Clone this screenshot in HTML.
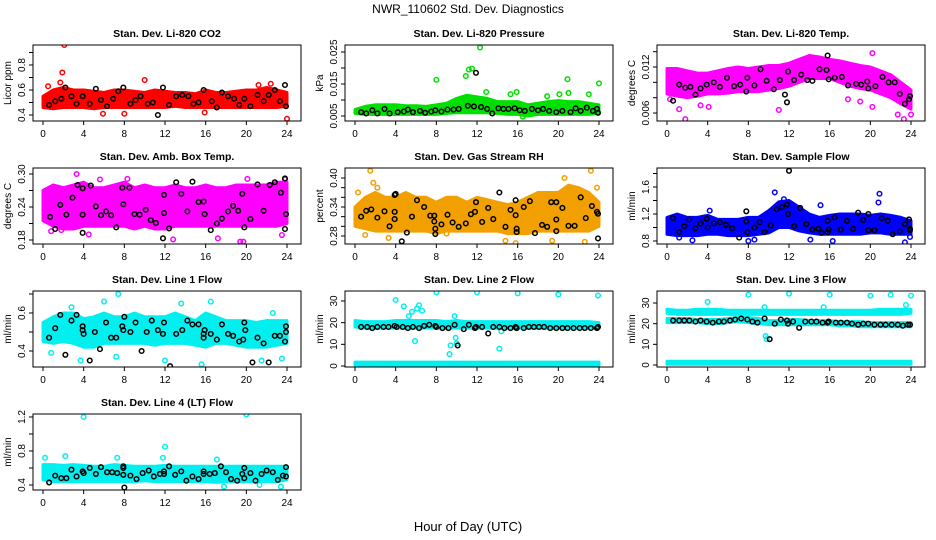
<!DOCTYPE html>
<html><head><meta charset="utf-8"><style>
html,body{margin:0;padding:0;background:#fff;}
svg{display:block;font-family:"Liberation Sans",sans-serif;}
</style></head><body>
<svg id="chart" width="936" height="540" viewBox="0 0 936 540" xmlns="http://www.w3.org/2000/svg">
<text x="468" y="13" text-anchor="middle" font-size="12">NWR_110602  Std. Dev. Diagnostics</text>
<text x="468" y="531" text-anchor="middle" font-size="13">Hour of Day (UTC)</text>
</svg>
<script>
const hours = [0,1,2,3,4,5,6,7,8,9,10,11,12,13,14,15,16,17,18,19,20,21,22,23,24];
const xTicks = [0,4,8,12,16,20,24];

const co2Lo = [0.46,0.45,0.46,0.46,0.46,0.45,0.46,0.46,0.46,0.46,0.46,0.46,0.46,0.47,0.46,0.46,0.46,0.46,0.46,0.46,0.46,0.46,0.46,0.46,0.47];
const co2Hi = [0.55,0.6,0.62,0.6,0.6,0.59,0.58,0.6,0.6,0.59,0.58,0.6,0.59,0.58,0.58,0.57,0.6,0.58,0.58,0.59,0.6,0.6,0.62,0.6,0.58];
const co2Out = [[2.1,0.96],[1.9,0.74],[1.7,0.66],[5.9,0.41],[8.0,0.41],[10,0.68],[15.9,0.42],[22.4,0.65],[24,0.37],[0.5,0.63],[21.2,0.64]];
const co2Black = [[0.6,0.48],[1.2,0.51],[1.8,0.53],[2.2,0.62],[2.8,0.55],[3.3,0.49],[3.9,0.55],[4.6,0.49],[5.2,0.61],[5.7,0.52],[6.3,0.47],[6.9,0.53],[7.4,0.59],[7.9,0.62],[8.6,0.49],[9.1,0.52],[9.6,0.55],[10.3,0.49],[10.8,0.5],[11.3,0.4],[11.8,0.62],[12.4,0.48],[13.1,0.55],[13.7,0.56],[14.3,0.55],[14.8,0.49],[15.3,0.5],[15.8,0.6],[16.6,0.51],[17.1,0.46],[17.6,0.58],[18.2,0.55],[18.8,0.53],[19.3,0.48],[19.8,0.53],[20.4,0.47],[21.1,0.56],[21.7,0.51],[22.2,0.56],[22.8,0.6],[23.3,0.51],[23.8,0.64],[23.9,0.47]];

const presLo = [0.0058,0.0055,0.0055,0.0055,0.0055,0.0055,0.0055,0.0055,0.0055,0.0058,0.006,0.006,0.006,0.006,0.0058,0.0055,0.0055,0.005,0.0055,0.0055,0.0055,0.0055,0.0055,0.0055,0.0058];
const presHi = [0.007,0.008,0.0085,0.0085,0.0085,0.0082,0.0082,0.008,0.0085,0.009,0.0105,0.0115,0.011,0.0105,0.0095,0.0095,0.0095,0.0085,0.009,0.0095,0.0098,0.0095,0.0095,0.009,0.0085];
const presOut = [[8,0.0163],[10.9,0.0175],[11.2,0.0195],[11.5,0.0198],[12.3,0.0264],[12.9,0.0125],[15.9,0.0125],[15.3,0.0118],[20.1,0.0118],[20.9,0.0165],[21,0.0122],[23,0.0118],[24,0.0152],[18.9,0.0112],[16.5,0.0048]];
const presBlack = [[0.6,0.0062],[1.1,0.0058],[1.7,0.0068],[2.2,0.0058],[2.9,0.0072],[3.4,0.0058],[4.2,0.0062],[4.8,0.0064],[5.2,0.007],[5.7,0.0062],[6.4,0.0066],[6.9,0.006],[7.5,0.0064],[7.9,0.0068],[8.5,0.0064],[9.1,0.007],[9.7,0.007],[10.2,0.0072],[11.1,0.0082],[11.9,0.0185],[11.7,0.008],[12.4,0.0078],[13,0.0072],[13.5,0.0058],[14.1,0.0074],[14.6,0.0072],[15.1,0.0072],[15.7,0.0074],[16.2,0.0068],[16.7,0.0066],[17.4,0.0072],[18,0.0068],[18.5,0.0072],[19.1,0.0066],[19.8,0.0062],[20.4,0.0066],[21.2,0.0062],[21.7,0.0074],[22.2,0.0066],[22.8,0.0076],[23.4,0.0066],[23.8,0.0072],[23.9,0.006]];

const tempLo = [0.0085,0.0082,0.008,0.0082,0.0085,0.0085,0.0086,0.0088,0.0088,0.0088,0.009,0.0092,0.0095,0.01,0.0105,0.0105,0.0105,0.01,0.0095,0.0092,0.009,0.0085,0.008,0.0072,0.0065];
const tempHi = [0.0118,0.0118,0.0115,0.0112,0.0112,0.0115,0.0118,0.012,0.0118,0.012,0.0122,0.0122,0.0125,0.013,0.0135,0.0133,0.013,0.0128,0.0125,0.0122,0.012,0.0115,0.011,0.01,0.009];
const tempOut = [[1.2,0.0065],[1.8,0.0052],[3.3,0.007],[4.1,0.0068],[11,0.0064],[20.2,0.0138],[20.2,0.0068],[22.7,0.0058],[23.3,0.0052],[24,0.0058],[0.3,0.0078],[17.8,0.0078],[19,0.0075]];
const tempBlack = [[0.6,0.0076],[1.2,0.0097],[1.8,0.0093],[2.3,0.0094],[2.8,0.0084],[3.3,0.0092],[3.9,0.0097],[4.6,0.01],[5.2,0.0094],[5.9,0.0106],[6.6,0.0095],[7.2,0.0097],[7.8,0.0088],[7.9,0.0106],[8.6,0.0096],[9.2,0.0117],[9.8,0.0102],[10.5,0.0091],[11.1,0.0103],[11.6,0.0084],[11.8,0.0074],[11.9,0.0114],[12.5,0.0103],[13.2,0.011],[13.8,0.0103],[14.3,0.0102],[15,0.0117],[15.7,0.0116],[15.8,0.0135],[15.9,0.0104],[16.5,0.0106],[17.2,0.0107],[17.8,0.0096],[18.6,0.0098],[19.1,0.0097],[19.7,0.0101],[19.8,0.0092],[20.5,0.0095],[21.2,0.0107],[21.8,0.01],[22.4,0.01],[22.9,0.0085],[23.4,0.0072],[23.9,0.0082],[23.8,0.0078]];

const ambLo = [0.215,0.205,0.2,0.2,0.205,0.205,0.205,0.205,0.205,0.2,0.205,0.2,0.2,0.205,0.205,0.205,0.205,0.205,0.205,0.205,0.205,0.205,0.205,0.205,0.21];
const ambHi = [0.27,0.28,0.275,0.28,0.285,0.275,0.275,0.28,0.285,0.275,0.28,0.275,0.275,0.28,0.275,0.275,0.28,0.275,0.275,0.28,0.28,0.28,0.28,0.285,0.285];
const ambOut = [[3.3,0.3],[10.7,0.318],[5.6,0.29],[4.5,0.19],[8.3,0.291],[12.8,0.181],[17.2,0.183],[19.4,0.177],[19.7,0.177],[23.5,0.189],[0.8,0.196],[1.8,0.198],[20.1,0.291],[23.8,0.29]];
const ambBlack = [[0.7,0.222],[1.2,0.2],[1.7,0.244],[2.3,0.226],[2.9,0.257],[3.4,0.28],[3.9,0.274],[3.9,0.226],[3.9,0.193],[4.7,0.279],[5.2,0.241],[5.7,0.225],[6.2,0.232],[6.7,0.225],[7.2,0.203],[7.8,0.275],[7.9,0.245],[8.5,0.275],[9,0.227],[9.5,0.226],[10.1,0.235],[10.6,0.216],[11.1,0.211],[11.8,0.183],[11.9,0.229],[11.9,0.262],[12.4,0.201],[13.1,0.285],[13.6,0.264],[14.2,0.232],[14.7,0.286],[15.3,0.249],[15.8,0.25],[15.9,0.227],[16.5,0.198],[17.1,0.21],[17.6,0.219],[18.2,0.232],[18.7,0.242],[19.2,0.233],[19.6,0.264],[19.8,0.203],[20.4,0.218],[21.1,0.281],[21.7,0.233],[22.3,0.28],[22.8,0.285],[23.4,0.266],[23.8,0.292],[23.9,0.227],[23.8,0.2]];

const rhLo = [0.3,0.295,0.29,0.29,0.29,0.29,0.29,0.29,0.285,0.29,0.29,0.29,0.29,0.29,0.29,0.285,0.285,0.285,0.29,0.29,0.29,0.29,0.29,0.29,0.3];
const rhHi = [0.34,0.36,0.37,0.36,0.36,0.37,0.36,0.36,0.35,0.36,0.36,0.35,0.36,0.355,0.35,0.345,0.35,0.36,0.37,0.37,0.37,0.385,0.38,0.37,0.35];
const rhOut = [[1.5,0.415],[1.8,0.39],[2.2,0.38],[0.3,0.37],[1,0.282],[3.3,0.276],[19.4,0.27],[20.6,0.4],[23.2,0.415],[23.8,0.38],[22.6,0.268],[15.8,0.265],[14.8,0.27],[9,0.285]];
const rhBlack = [[0.6,0.32],[1.1,0.332],[1.6,0.335],[2.2,0.318],[2.9,0.331],[3.4,0.3],[3.9,0.365],[4,0.367],[3.9,0.33],[3.9,0.315],[4.6,0.269],[5.1,0.287],[5.6,0.32],[6.1,0.354],[6.8,0.34],[7.4,0.322],[7.8,0.322],[7.8,0.31],[7.9,0.295],[7.9,0.284],[8.5,0.304],[9.1,0.324],[9.6,0.308],[10.2,0.299],[10.9,0.306],[11.4,0.325],[11.8,0.33],[11.9,0.35],[12.5,0.309],[13.1,0.338],[13.6,0.315],[14.2,0.37],[14.8,0.299],[15.3,0.334],[15.8,0.354],[15.8,0.323],[15.9,0.295],[15.9,0.288],[16.6,0.34],[17.2,0.352],[17.7,0.286],[18.4,0.303],[18.9,0.299],[19.3,0.35],[19.8,0.35],[19.8,0.314],[19.8,0.29],[20.4,0.338],[21,0.301],[21.6,0.301],[22.2,0.36],[22.7,0.317],[23.3,0.342],[23.8,0.33],[23.9,0.326],[23.9,0.275]];

const flowLo = [0.9,0.88,0.88,0.88,0.9,0.9,0.88,0.88,0.88,0.9,0.92,1.0,1.0,0.95,0.92,0.9,0.9,0.9,0.9,0.9,0.92,0.92,0.9,0.9,0.9];
const flowHi = [1.15,1.2,1.15,1.15,1.18,1.12,1.12,1.12,1.15,1.15,1.25,1.38,1.4,1.3,1.2,1.15,1.18,1.2,1.2,1.2,1.18,1.2,1.18,1.15,1.1];
const flowOut = [[10.6,1.52],[11.5,1.42],[15.1,1.33],[20.9,1.5],[20.8,1.37],[2.5,0.81],[8,0.8],[8.6,0.82],[14.1,0.82],[16.3,0.8],[23.4,0.78],[23.9,0.86],[4.2,1.25],[1.2,0.85]];
const flowBlack = [[0.6,1.14],[1.2,0.93],[1.7,1.02],[2.2,1.12],[2.8,0.99],[3.3,1.06],[3.9,1.13],[4,1.0],[4.6,1.06],[5.2,1.08],[5.8,1.04],[6.4,0.99],[7.1,0.85],[7.8,1.24],[7.8,1.09],[7.9,0.93],[8.6,1.0],[9.1,1.08],[9.6,0.93],[10.2,1.03],[10.8,1.27],[11.3,1.3],[11.8,1.34],[11.9,1.2],[12.0,1.84],[12.5,1.02],[13.1,1.29],[13.7,1.05],[14.3,0.97],[14.9,0.98],[15.2,0.92],[15.8,0.93],[15.9,0.97],[15.8,1.1],[16.5,1.15],[17.1,0.97],[17.7,1.1],[18.3,0.98],[18.8,1.22],[19.3,1.11],[19.8,0.96],[19.8,1.2],[20.4,0.96],[21.1,1.14],[21.7,1.1],[22.2,0.9],[22.9,0.94],[23.4,1.05],[23.8,1.12],[23.9,0.98],[23.9,0.96]];

const l1Lo = [0.45,0.44,0.45,0.44,0.42,0.42,0.44,0.44,0.44,0.44,0.44,0.43,0.44,0.44,0.44,0.43,0.42,0.44,0.44,0.43,0.42,0.42,0.42,0.43,0.44];
const l1Hi = [0.55,0.58,0.6,0.6,0.57,0.58,0.6,0.58,0.58,0.6,0.58,0.58,0.58,0.6,0.58,0.56,0.6,0.58,0.56,0.56,0.56,0.55,0.56,0.56,0.56];
const l1Out = [[7.4,0.7],[16.5,0.66],[6,0.66],[3.7,0.35],[7.2,0.37],[12,0.35],[15.6,0.33],[21.5,0.35],[23.5,0.36],[2.8,0.63],[13.6,0.65],[22.6,0.6],[0.8,0.39]];
const l1Black = [[0.6,0.47],[1.2,0.52],[1.7,0.59],[2.2,0.38],[2.8,0.56],[3.3,0.59],[3.9,0.53],[3.9,0.51],[4,0.49],[4.6,0.35],[5.1,0.5],[5.6,0.41],[6.2,0.55],[6.7,0.47],[7.2,0.47],[7.8,0.53],[7.9,0.51],[8,0.58],[8.6,0.5],[9.1,0.55],[9.7,0.4],[10.2,0.5],[10.7,0.56],[11.3,0.51],[11.8,0.49],[11.9,0.55],[12.5,0.32],[13.1,0.49],[13.7,0.51],[14.2,0.56],[14.7,0.54],[15.3,0.54],[15.8,0.49],[15.8,0.47],[15.9,0.51],[16.5,0.49],[17.1,0.46],[17.6,0.54],[18.2,0.49],[18.7,0.48],[19.3,0.45],[19.7,0.46],[19.9,0.51],[19.8,0.55],[20.6,0.34],[21.1,0.47],[21.7,0.44],[22.2,0.34],[22.8,0.48],[23.3,0.48],[23.8,0.45],[23.9,0.53],[23.9,0.5]];

const l2Lo = [18,17.5,17.5,17.5,17.5,17.5,17.5,17.5,17.5,17.5,17.5,17.5,17.5,17.5,17.5,17.5,17.5,17.5,17.5,17.5,17.5,17.5,17.5,17.5,17.5];
const l2Hi = [21,20.5,20.5,20.5,21,21,21,21,21,20.5,21,20.5,20.5,20.5,20.5,20.5,20.5,20.5,20.5,20.5,20.5,20.5,20.5,20.5,20];
const l2BaseLo = [0.4,0.4,0.4,0.4,0.4,0.4,0.4,0.4,0.4,0.4,0.4,0.4,0.4,0.4,0.4,0.4,0.4,0.4,0.4,0.4,0.4,0.4,0.4,0.4,0.4];
const l2BaseHi = [1.8,1.8,1.8,1.8,1.8,1.8,1.8,1.8,1.8,1.8,1.8,1.8,1.8,1.8,1.8,1.8,1.8,1.8,1.8,1.8,1.8,1.8,1.8,1.8,1.8];
const l2Out = [[4,30.5],[4.8,27.5],[5.3,23],[5.6,25],[6.1,26.5],[6.3,28],[6.6,25.5],[5.9,11.5],[8,34],[12,34],[16,33.5],[20,33],[23.9,32.5],[9.3,5.5],[9.4,9.5],[9.9,13],[10,10.5],[9.8,23],[14.2,8],[14.4,16]];
const l2Black = [[0.6,18],[1.2,18],[1.7,17.5],[2.2,18],[2.8,18],[3.3,18],[3.9,18.5],[4.1,18],[4.7,18],[5.2,17.5],[5.7,18],[6.3,17.5],[6.8,18.5],[7.3,19],[7.9,18.5],[8,18],[8.6,17.5],[9.2,17.5],[9.8,19],[10.1,9.5],[10.7,17],[11.2,19],[11.8,17.5],[11.9,18],[12.5,18],[13.1,15],[13.6,18],[14.2,18],[14.7,17.5],[15.3,17.5],[15.8,18],[15.9,17.5],[16.6,17.5],[17.1,18],[17.6,18],[18.1,18],[18.6,18],[19.2,17.5],[19.8,17.5],[20.4,17.5],[20.9,17.5],[21.5,17.5],[22.1,17.5],[22.6,17.5],[23.2,17.5],[23.8,17.5],[23.9,18]];

const l3UpLo = [25,24.5,24.5,24.5,24.5,24.5,24.5,24.5,24.5,24.5,24.5,24.5,24.5,24.5,24.5,24.5,24.5,24.5,24.5,24.5,24.5,24.5,24.5,24.5,25];
const l3UpHi = [27,26.5,26.5,27,27,27,26.5,26.5,26.5,26.5,26.5,26.5,26.5,26.5,26.5,26.5,26.5,26.5,26.5,26.5,26.5,27,27,27,27];
const l3MidLo = [20.5,20.5,20.5,20.5,20,20,20.5,21,20.5,20,19.5,19.5,19.5,19.5,19.5,19.5,19.5,19,19,18.5,18.5,18.5,18.5,18.5,18.5];
const l3MidHi = [22.5,22.5,22.5,22,22,22,22.5,23,23,22.5,21.5,21.5,22,22,21.5,21.5,21.5,21,21,21,20.5,20.5,20.5,20.5,20.5];
const l3BaseLo = [0.4,0.4,0.4,0.4,0.4,0.4,0.4,0.4,0.4,0.4,0.4,0.4,0.4,0.4,0.4,0.4,0.4,0.4,0.4,0.4,0.4,0.4,0.4,0.4,0.4];
const l3BaseHi = [1.8,1.8,1.8,1.8,1.8,1.8,1.8,1.8,1.8,1.8,1.8,1.8,1.8,1.8,1.8,1.8,1.8,1.8,1.8,1.8,1.8,1.8,1.8,1.8,1.8];
const l3Out = [[4,30.5],[8,34],[12,34.5],[16,34],[20,33.5],[22,34],[24,33.5],[9.6,28],[9.7,14],[9.8,12.5],[23.5,29],[15.4,28]];
const l3Black = [[0.6,21.5],[1.2,21.5],[1.7,21.5],[2.2,21.5],[2.8,21],[3.3,21.5],[3.9,21],[4.5,20.5],[5.1,21],[5.6,21],[6.2,21.5],[6.7,22],[7.3,22.5],[7.9,22],[8.4,21],[8.9,20.5],[9.6,22.5],[10.1,12.5],[10.6,20],[11.2,22],[11.8,21.5],[11.9,20],[12.4,21],[13,18],[13.6,21],[14.2,21],[14.7,21],[15.3,20.5],[15.8,20.5],[15.9,21],[16.6,20.5],[17.1,20.5],[17.7,20.5],[18.2,20],[18.8,19.5],[19.3,20],[19.8,20],[20.4,19.5],[21,19.5],[21.5,19.5],[22.1,19.5],[22.7,19.5],[23.2,19],[23.7,19.5],[23.9,19.5]];

const l4Lo = [0.46,0.44,0.44,0.44,0.44,0.44,0.44,0.44,0.44,0.44,0.45,0.44,0.44,0.44,0.44,0.44,0.44,0.43,0.44,0.44,0.44,0.44,0.44,0.44,0.46];
const l4Hi = [0.64,0.64,0.63,0.64,0.63,0.62,0.62,0.64,0.63,0.62,0.62,0.62,0.63,0.62,0.62,0.62,0.62,0.62,0.62,0.62,0.62,0.62,0.62,0.62,0.62];
const l4Out = [[4,1.2],[20,1.23],[12,0.85],[11.8,0.72],[7.3,0.72],[2.2,0.74],[0.2,0.72],[17.1,0.7],[17.8,0.38],[23.4,0.38],[21.3,0.4]];
const l4Black = [[0.6,0.43],[1.2,0.51],[1.8,0.48],[2.3,0.48],[2.8,0.58],[3.3,0.5],[3.9,0.56],[4,0.54],[4.6,0.6],[5.2,0.53],[5.7,0.61],[6.3,0.55],[6.8,0.55],[7.3,0.54],[7.9,0.62],[7.9,0.6],[7.9,0.52],[8,0.37],[8.6,0.51],[9.2,0.47],[9.8,0.54],[10.4,0.57],[10.9,0.5],[11.5,0.53],[11.9,0.56],[11.9,0.53],[12.4,0.62],[13,0.52],[13.6,0.56],[14.1,0.45],[14.7,0.5],[15.3,0.47],[15.8,0.56],[15.8,0.53],[16.4,0.53],[16.9,0.54],[17.5,0.62],[18,0.55],[18.5,0.47],[19.1,0.45],[19.6,0.53],[19.8,0.6],[19.8,0.48],[20.4,0.54],[20.9,0.45],[21.5,0.53],[22,0.57],[22.6,0.55],[23.1,0.46],[23.6,0.51],[23.9,0.5],[23.9,0.61]];

const co2Ticks=[0.4,0.5,0.6,0.7,0.8,0.9], co2Labels=["0.4","0.6","0.8"];
const presTicks=[0.005,0.01,0.015,0.02,0.025], presLabels=["0.005","0.015","0.025"];
const tempTicks=[0.006,0.008,0.01,0.012,0.014], tempLabels=["0.006","0.012"];
const ambTicks=[0.18,0.21,0.24,0.27,0.30], ambLabels=["0.18","0.24","0.30"];
const rhTicks=[0.28,0.30,0.32,0.34,0.36,0.38,0.40], rhLabels=["0.28","0.34","0.40"];
const flowTicks=[0.8,1.0,1.2,1.4,1.6,1.8], flowLabels=["0.8","1.2","1.6"];
const l1Ticks=[0.4,0.5,0.6,0.7], l1Labels=["0.4","0.6"];
const l23Ticks=[0,10,20,30], l23Labels=["0","10","20","30"];
const l4Ticks=[0.4,0.6,0.8,1.0,1.2], l4Labels=["0.4","0.8","1.2"];

const NS="http://www.w3.org/2000/svg";
const svg=document.getElementById('chart');
function mk(tag,attrs,parent){const e=document.createElementNS(NS,tag);for(const k in attrs)e.setAttribute(k,attrs[k]);(parent||svg).appendChild(e);return e;}

const panels=[
 {key:'co2',title:'Stan. Dev. Li-820 CO2',ylab:'Licor ppm',col:0,row:0,ymin:0.352,ymax:0.96,color:'#ff0000',bands:[[co2Lo,co2Hi]],out:co2Out,black:co2Black,ticks:co2Ticks,labels:co2Labels},
 {key:'pressure',title:'Stan. Dev. Li-820 Pressure',ylab:'kPa',col:1,row:0,ymin:0.00344,ymax:0.02719,color:'#00e000',bands:[[presLo,presHi]],out:presOut,black:presBlack,ticks:presTicks,labels:presLabels},
 {key:'temp',title:'Stan. Dev. Li-820 Temp.',ylab:'degrees C',col:2,row:0,ymin:0.00496,ymax:0.01487,color:'#ff00ff',bands:[[tempLo,tempHi]],out:tempOut,black:tempBlack,ticks:tempTicks,labels:tempLabels},
 {key:'amb-box-temp',title:'Stan. Dev. Amb. Box Temp.',ylab:'degrees C',col:0,row:1,ymin:0.1727,ymax:0.3109,color:'#ff00ff',bands:[[ambLo,ambHi]],out:ambOut,black:ambBlack,ticks:ambTicks,labels:ambLabels},
 {key:'gas-rh',title:'Stan. Dev. Gas Stream RH',ylab:'percent',col:1,row:1,ymin:0.2634,ymax:0.4207,color:'#f2a000',bands:[[rhLo,rhHi]],out:rhOut,black:rhBlack,ticks:rhTicks,labels:rhLabels},
 {key:'sample-flow',title:'Stan. Dev. Sample Flow',ylab:'ml/min',col:2,row:1,ymin:0.7556,ymax:1.8815,color:'#0000ff',bands:[[flowLo,flowHi]],out:flowOut,black:flowBlack,ticks:flowTicks,labels:flowLabels},
 {key:'line1',title:'Stan. Dev. Line 1 Flow',ylab:'ml/min',col:0,row:2,ymin:0.3158,ymax:0.7158,color:'#00f0f0',bands:[[l1Lo,l1Hi]],out:l1Out,black:l1Black,ticks:l1Ticks,labels:l1Labels},
 {key:'line2',title:'Stan. Dev. Line 2 Flow',ylab:'ml/min',col:1,row:2,ymin:-0.46,ymax:34.6,color:'#00f0f0',bands:[[l2Lo,l2Hi],[l2BaseLo,l2BaseHi]],out:l2Out,black:l2Black,ticks:l23Ticks,labels:l23Labels},
 {key:'line3',title:'Stan. Dev. Line 3 Flow',ylab:'ml/min',col:2,row:2,ymin:-0.97,ymax:35.8,color:'#00f0f0',bands:[[l3UpLo,l3UpHi],[l3MidLo,l3MidHi],[l3BaseLo,l3BaseHi]],out:l3Out,black:l3Black,ticks:l23Ticks,labels:l23Labels},
 {key:'line4',title:'Stan. Dev. Line 4 (LT) Flow',ylab:'ml/min',col:0,row:3,ymin:0.341,ymax:1.235,color:'#00f0f0',bands:[[l4Lo,l4Hi]],out:l4Out,black:l4Black,ticks:l4Ticks,labels:l4Labels}
];

const colLeft=[33,345,657], rowTop=[45,168,291,414], BW=268, BH=76;

panels.forEach(p=>{
  const L=colLeft[p.col], T=rowTop[p.row], B=T+BH;
  const xs=h=>L+10+h*(244/24);
  const ys=v=>B-(v-p.ymin)/(p.ymax-p.ymin)*BH;
  const g=mk('g',{});
  
  
  const clipId='clip-'+p.key;
  const cp=mk('clipPath',{id:clipId},g); mk('rect',{x:L,y:T,width:BW,height:BH},cp);
  const plot=mk('g',{'clip-path':'url(#'+clipId+')'},g);
  p.bands.forEach((b,bi)=>{
    const lo=b[0], hi=b[1];
    let d='M'+hours.map((h,i)=>xs(h).toFixed(1)+','+ys(hi[i]).toFixed(1)).join(' L');
    d+=' L'+hours.slice().reverse().map((h,j)=>{const i=hours.length-1-j;return xs(h).toFixed(1)+','+ys(lo[i]).toFixed(1);}).join(' L')+' Z';
    const band=mk('path',{d:d,fill:p.color,stroke:p.color,'stroke-width':3,'stroke-linejoin':'round'},plot);
    
    
  });
  p.out.forEach(pt=>{
    const c=mk('circle',{cx:xs(pt[0]),cy:ys(pt[1]),r:2.3,fill:'none',stroke:p.color,'stroke-width':1.5},plot);
    
    
  });
  p.black.forEach(pt=>{
    const c=mk('circle',{cx:xs(pt[0]),cy:ys(pt[1]),r:2.3,fill:'none',stroke:'#000','stroke-width':1.5},plot);
    
    
  });
  mk('rect',{x:L,y:T,width:BW,height:BH,fill:'none',stroke:'#000','stroke-width':1},g);
  const t=mk('text',{x:L+BW/2,y:T-8,'text-anchor':'middle','font-size':10.5,'font-weight':'bold'},g);
  t.textContent=p.title;
  
  
  xTicks.forEach(h=>{
    mk('line',{x1:xs(h),x2:xs(h),y1:B,y2:B+4,stroke:'#000'},g);
    const tl=mk('text',{x:xs(h),y:B+16,'text-anchor':'middle','font-size':10},g);
    tl.textContent=String(h);
    
    
  });
  p.ticks.forEach(v=>{
    const y=ys(v);
    if(y<T-1||y>B+1) return;
    mk('line',{x1:L-4,x2:L,y1:y,y2:y,stroke:'#000'},g);
  });
  p.labels.forEach(s=>{
    const y=ys(parseFloat(s));
    const tl=mk('text',{x:0,y:0,'text-anchor':'middle','font-size':10,transform:'translate('+(L-8)+','+y+') rotate(-90)'},g);
    tl.textContent=s;
    
    
  });
  const yl=mk('text',{x:0,y:0,'text-anchor':'middle','font-size':10,transform:'translate('+(L-22)+','+(T+BH/2)+') rotate(-90)'},g);
  yl.textContent=p.ylab;
  
  
});
</script>
</body></html>
